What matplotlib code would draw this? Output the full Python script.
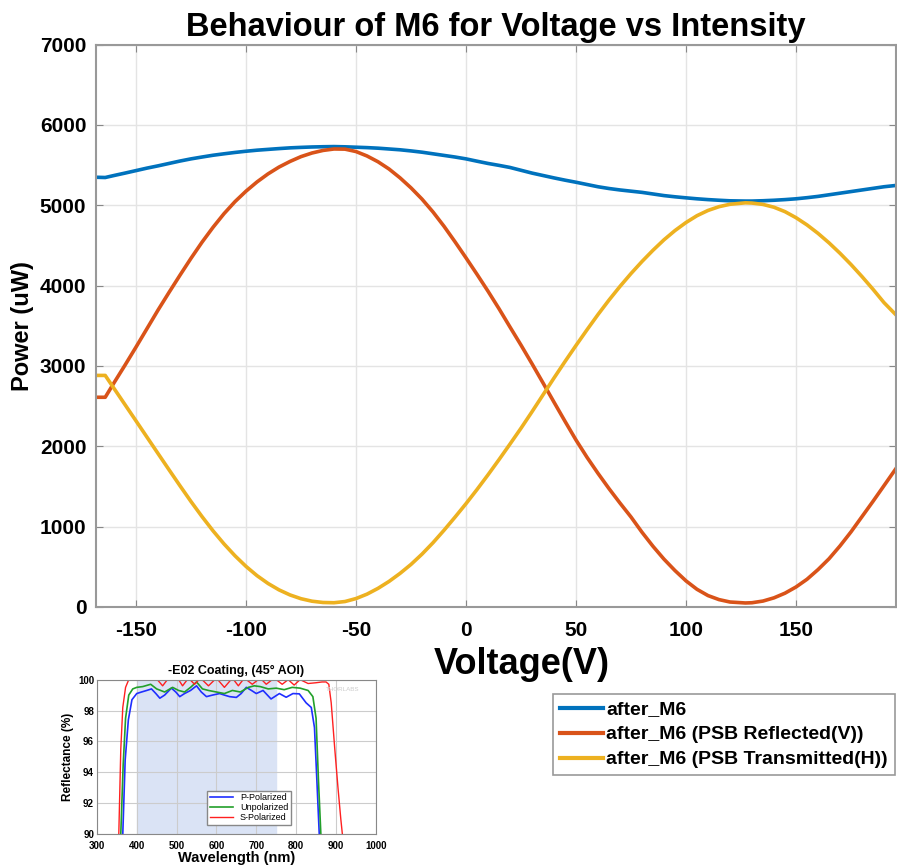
import numpy as np
import matplotlib
matplotlib.use('Agg')
from matplotlib import pyplot as plt
from matplotlib.lines import Line2D

plt.rcParams['font.family'] = ['Liberation Sans', 'DejaVu Sans']
plt.rcParams['axes.unicode_minus'] = False

# main chart data
volt = [-168, -164, -160, -155, -150, -145, -140, -135, -130, -125,
        -120, -115, -110, -105, -100, -95, -90, -85, -80, -75,
        -70, -65, -60, -55, -50, -45, -40, -35, -30, -25,
        -20, -15, -10, -5, 0, 5, 10, 15, 20, 25,
        30, 35, 40, 45, 50, 55, 60, 65, 70, 75,
        80, 85, 90, 95, 100, 105, 110, 115, 120, 127,
        130, 135, 140, 145, 150, 155, 160, 165, 170, 175,
        180, 185, 190, 196]
after_m6 = [5348, 5345, 5370, 5400, 5431, 5462, 5490, 5520, 5550, 5577,
            5600, 5622, 5640, 5657, 5672, 5685, 5695, 5705, 5714, 5720,
            5725, 5728, 5730, 5727, 5722, 5717, 5710, 5700, 5690, 5676,
            5660, 5640, 5620, 5600, 5577, 5548, 5520, 5496, 5470, 5435,
            5400, 5370, 5340, 5312, 5286, 5258, 5230, 5208, 5190, 5175,
            5160, 5140, 5120, 5105, 5092, 5080, 5070, 5062, 5055, 5052,
            5052, 5056, 5062, 5070, 5080, 5094, 5110, 5130, 5150, 5170,
            5190, 5210, 5230, 5248]
reflected = [2610, 2610, 2790, 3010, 3235, 3465, 3695, 3915, 4130, 4340,
             4540, 4725, 4895, 5045, 5175, 5290, 5390, 5475, 5545, 5605,
             5650, 5682, 5700, 5698, 5668, 5613, 5541, 5451, 5341, 5216,
             5076, 4916, 4738, 4545, 4345, 4140, 3930, 3712, 3484, 3259,
             3027, 2789, 2549, 2311, 2078, 1863, 1663, 1473, 1293, 1120,
             930, 755, 595, 453, 325, 220, 142, 92, 62, 50,
             53, 74, 114, 172, 249, 345, 465, 600, 760, 935,
             1125, 1315, 1510, 1745]
transmitted = [2882, 2882, 2720, 2518, 2316, 2113, 1910, 1708, 1508, 1312,
               1125, 948, 785, 637, 505, 390, 293, 213, 150, 103,
               72, 56, 53, 68, 105, 160, 232, 318, 418, 530,
               658, 800, 955, 1118, 1286, 1462, 1645, 1834, 2028, 2225,
               2430, 2640, 2850, 3055, 3255, 3450, 3640, 3820, 3990, 4150,
               4300, 4440, 4570, 4685, 4785, 4870, 4935, 4982, 5012, 5030,
               5027, 5010, 4975, 4920, 4845, 4755, 4650, 4532, 4402, 4262,
               4112, 3954, 3788, 3620]
series_names = ['after_M6', 'after_M6 (PSB Reflected(V))', 'after_M6 (PSB Transmitted(H))']
x_ticks = [-150, -100, -50, 0, 50, 100, 150]
y_ticks = [0, 1000, 2000, 3000, 4000, 5000, 6000, 7000]

# inset: coating reflectance curves
p_wl = [365, 371, 379, 388, 400, 412, 425, 437, 448, 458, 470, 487, 498, 508, 520, 535, 550, 562,
        575, 590, 608, 620, 633, 650, 662, 675, 688, 700, 717, 737, 758, 775, 792, 808, 825, 838,
        846, 852, 858]
p_val = [90, 94.8, 97.4, 98.7, 99.1, 99.2, 99.3, 99.4, 99.1, 98.8, 99.0, 99.45, 99.2, 98.9, 99.1,
         99.3, 99.6, 99.2, 98.9, 99.0, 99.1, 99.0, 98.9, 98.85, 99.1, 99.5, 99.3, 99.1, 99.3, 98.75,
         99.1, 98.86, 99.1, 99.08, 98.5, 98.2, 96.9, 93.5, 90]
g_wl = [360, 366, 372, 380, 390, 400, 415, 435, 450, 470, 490, 505, 520, 535, 550, 565, 580, 600,
        620, 640, 660, 680, 695, 710, 730, 750, 770, 790, 810, 830, 842, 850, 856, 862]
g_val = [90, 94.5, 97.5, 99.0, 99.4, 99.5, 99.55, 99.7, 99.4, 99.2, 99.5, 99.3, 99.2, 99.5, 99.85,
         99.4, 99.3, 99.2, 99.1, 99.3, 99.2, 99.5, 99.6, 99.55, 99.4, 99.45, 99.35, 99.5, 99.45,
         99.3, 98.9, 97.5, 93.5, 90]
s_wl = [355, 360, 365, 372, 380, 390, 400, 420, 445, 465, 480, 500, 515, 530, 545, 560, 580, 600,
        620, 640, 655, 670, 690, 710, 725, 745, 765, 780, 795, 810, 830, 850, 865, 875, 882, 888,
        897, 905, 912, 916]
s_val = [90, 95.5, 98.2, 99.5, 100, 100.2, 100.3, 100.3, 100.2, 99.6, 100.1, 100.2, 99.6, 100.1,
         99.7, 100.1, 99.6, 100.1, 99.5, 100.1, 99.6, 100.1, 99.7, 100.1, 99.7, 100.1, 99.7, 100.0,
         99.65, 100.0, 99.75, 99.8, 99.85, 99.85, 99.7, 98.5, 95.5, 93, 91, 90]
inset_names = ['P-Polarized', 'Unpolarized', 'S-Polarized']

fig = plt.figure(figsize=(8.97, 8.68), dpi=100)

ax = fig.add_axes([0.107, 0.3007, 0.892, 0.648])
cols = ['#0072BD', '#D95319', '#EDB120']
for ys, c, n in zip([after_m6, reflected, transmitted], cols, series_names):
    ax.plot(volt, ys, color=c, lw=2.6, label=n, solid_capstyle='round')
ax.set_xlim(-168.2, 195.5)
ax.set_ylim(0, 7000)
ax.set_xticks(x_ticks)
ax.set_yticks(y_ticks)
ax.grid(True, color='#e4e4e4', lw=1)
ax.set_axisbelow(True)
ax.tick_params(direction='in', top=True, right=True, length=5, color='#888888',
               labelsize=15, pad=7)
ax.tick_params(axis='x', pad=10)
for lab in ax.get_xticklabels() + ax.get_yticklabels():
    lab.set_fontweight('bold')
for s in ax.spines.values():
    s.set_color('#999999')
    s.set_linewidth(1.5)
ax.set_title('Behaviour of M6 for Voltage vs Intensity', fontsize=23.5, fontweight='bold', pad=6)
ax.set_xlabel('Voltage(V)', fontsize=26, fontweight='bold')
ax.xaxis.set_label_coords(0.532, -0.071)
ax.set_ylabel('Power (uW)', fontsize=17, fontweight='bold', labelpad=4)

handles = [Line2D([0], [0], color=c, lw=3) for c in cols]
leg = fig.legend(handles, series_names, loc='upper left', bbox_to_anchor=(0.6165, 0.2005),
                 prop={'weight': 'bold', 'size': 14}, handlelength=2.2, handletextpad=0.2,
                 labelspacing=0.38, borderpad=0.35, borderaxespad=0, fancybox=False,
                 framealpha=1)
leg.get_frame().set_edgecolor('#999999')
leg.get_frame().set_linewidth(1.2)

# inset coating chart
ia = fig.add_axes([0.108, 0.039, 0.311, 0.178])
ia.axvspan(400, 750, color='#dae3f5', zorder=0)
ia.plot(p_wl, p_val, color='#1f2fff', lw=1.2, label=inset_names[0])
ia.plot(g_wl, g_val, color='#22a02a', lw=1.2, label=inset_names[1])
ia.plot(s_wl, s_val, color='#ff2020', lw=1.0, label=inset_names[2])
ia.set_xlim(300, 1000)
ia.set_ylim(90, 100)
ia.set_xticks(range(300, 1001, 100))
ia.set_yticks(range(90, 101, 2))
ia.grid(True, color='#cccccc', lw=0.8)
ia.tick_params(labelsize=7, length=0, pad=2)
ia.tick_params(axis='x', pad=5)
for lab in ia.get_xticklabels() + ia.get_yticklabels():
    lab.set_fontweight('bold')
for s in ia.spines.values():
    s.set_color('#888888')
ia.set_title('-E02 Coating, (45° AOI)', fontsize=9, fontweight='bold', pad=4)
ia.set_xlabel('Wavelength (nm)', fontsize=10.5, fontweight='bold', labelpad=0)
ia.set_ylabel('Reflectance (%)', fontsize=8.5, fontweight='bold', labelpad=3)
ia.text(0.94, 0.955, 'THORLABS', transform=ia.transAxes, fontsize=4.5, color='#cccccc',
        ha='right', va='top')
il = ia.legend(loc='lower left', bbox_to_anchor=(0.38, 0.03), fontsize=6.5, handlelength=2.5,
               labelspacing=0.1, borderpad=0.3, fancybox=False, framealpha=1)
il.get_frame().set_edgecolor('#888888')

fig.savefig('out.png', dpi=100)
